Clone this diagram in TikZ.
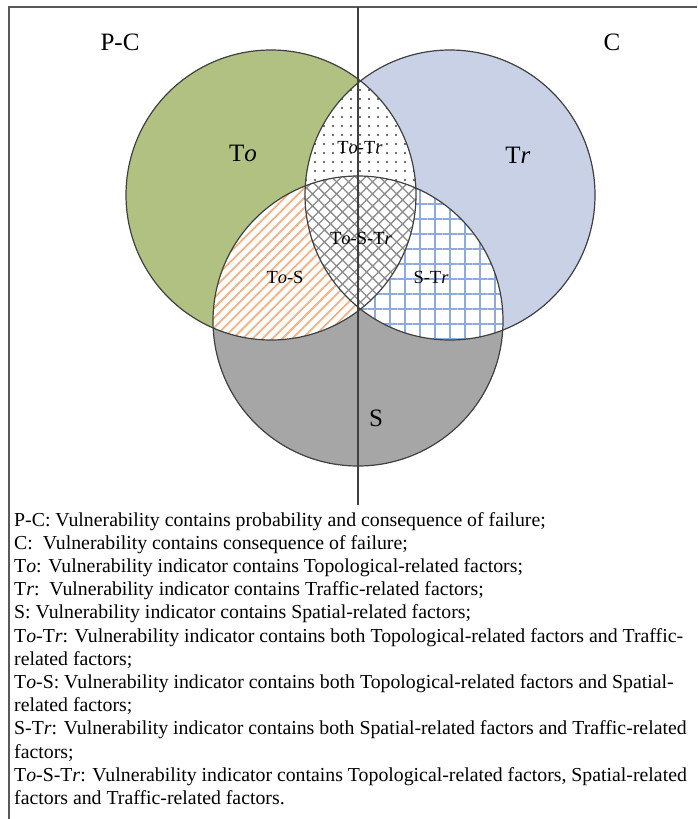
\documentclass[tikz,border=0pt]{standalone}
\usepackage{fontspec}
\setmainfont{Liberation Serif}
\usepackage{xcolor}
\usetikzlibrary{patterns.meta}
\definecolor{toGreen}{RGB}{176,193,130}
\definecolor{trBlue}{RGB}{201,209,231}
\definecolor{sGray}{RGB}{166,166,166}
\definecolor{hatchOrange}{RGB}{244,177,131}
\definecolor{gridBlue}{RGB}{143,170,220}
\definecolor{edgeGray}{RGB}{64,64,64}
\tikzstyle{ring} = [draw=edgeGray, line width=1.2pt]
\tikzstyle{frame} = [draw=black!65, line width=2pt]
\tikzstyle{divider} = [draw=edgeGray, line width=1.8pt]
\tikzstyle{setlabel} = [font=\fontsize{25}{30}\selectfont, inner sep=0pt]
\tikzstyle{zonelabel} = [font=\fontsize{18.5}{22}\selectfont, inner sep=0pt]
\tikzstyle{legend} = [font=\fontsize{19.8}{23.2}\selectfont, align=left, inner sep=0pt, anchor=north west]
\newcommand{\topo}{T\textit{o}}
\newcommand{\traf}{T\textit{r}}

\begin{document}
\begin{tikzpicture}[x=1pt, y=-1pt]
    \useasboundingbox (0,0) rectangle (697,819);
    \coordinate (toC) at (271,195);
    \coordinate (trC) at (450,195);
    \coordinate (sC) at (358,321);
    %
    \fill[toGreen] (toC) circle[radius=145pt];
    \fill[trBlue] (trC) circle[radius=145pt];
    \fill[sGray] (sC) circle[radius=145pt];
    % To-Tr
    \begin{scope}
      \clip (toC) circle[radius=145pt];
      \fill[white] (trC) circle[radius=145pt];
      \fill[pattern={Dots[distance=9pt, radius=1.1pt]}, pattern color=black!75] (trC) circle[radius=145pt];
    \end{scope}
    % To-S
    \begin{scope}
      \clip (sC) circle[radius=145pt];
      \fill[white] (toC) circle[radius=145pt];
      \fill[pattern={Lines[distance=7pt, angle=45, line width=1.8pt]}, pattern color=hatchOrange] (toC) circle[radius=145pt];
    \end{scope}
    % S-Tr
    \begin{scope}
      \clip (sC) circle[radius=145pt];
      \fill[white] (trC) circle[radius=145pt];
      \fill[pattern={Hatch[distance=15pt, angle=0, line width=1.8pt]}, pattern color=gridBlue] (trC) circle[radius=145pt];
    \end{scope}
    % To-S-Tr
    \begin{scope}
      \clip (sC) circle[radius=145pt];
      \clip (toC) circle[radius=145pt];
      \fill[white] (trC) circle[radius=145pt];
      \fill[pattern={Hatch[distance=8.5pt, angle=45, line width=1.3pt]}, pattern color=black!45] (trC) circle[radius=145pt];
    \end{scope}
    %
    \draw[ring] (toC) circle[radius=145pt];
    \draw[ring] (trC) circle[radius=145pt];
    \draw[ring] (sC) circle[radius=145pt];
    %
    \coordinate (frameNE) at (697,7);
    \coordinate (frameNW) at (9,7);
    \coordinate (frameSW) at (9,819);
    \draw[frame] (frameNE) -- (frameNW) -- (frameSW);
    \coordinate (divTop) at (358,7);
    \coordinate (divBot) at (358,505);
    \draw[divider] (divTop) -- (divBot);
    %
    \node[setlabel] (pcLbl) at (120,42) {P-C};
    \node[setlabel] (cLbl) at (612,42) {C};
    \node[setlabel] (toLbl) at (243,153) {\topo};
    \node[setlabel] (trLbl) at (518,155) {\traf};
    \node[setlabel] (sLbl) at (376,418) {S};
    \node[zonelabel] (totrLbl) at (360,148) {\topo-\traf};
    \node[zonelabel] (tostrLbl) at (361,238) {\topo-S-\traf};
    \node[zonelabel] (tosLbl) at (285,277) {\topo-S};
    \node[zonelabel] (strLbl) at (431,277) {S-\traf};
    %
    \node[legend] (legend) at (14,512) {P-C: Vulnerability contains probability and consequence of failure;\\
      C:\ \ Vulnerability contains consequence of failure;\\
      \topo: Vulnerability indicator contains Topological-related factors;\\
      \traf:\ \ Vulnerability indicator contains Traffic-related factors;\\
      S: Vulnerability indicator contains Spatial-related factors;\\
      \topo-\traf: Vulnerability indicator contains both Topological-related factors and Traffic-\\
      related factors;\\
      \topo-S: Vulnerability indicator contains both Topological-related factors and Spatial-\\
      related factors;\\
      S-\traf: Vulnerability indicator contains both Spatial-related factors and Traffic-related\\
      factors;\\
      \topo-S-\traf: Vulnerability indicator contains Topological-related factors, Spatial-related\\
      factors and Traffic-related factors.};
\end{tikzpicture}
\end{document}
